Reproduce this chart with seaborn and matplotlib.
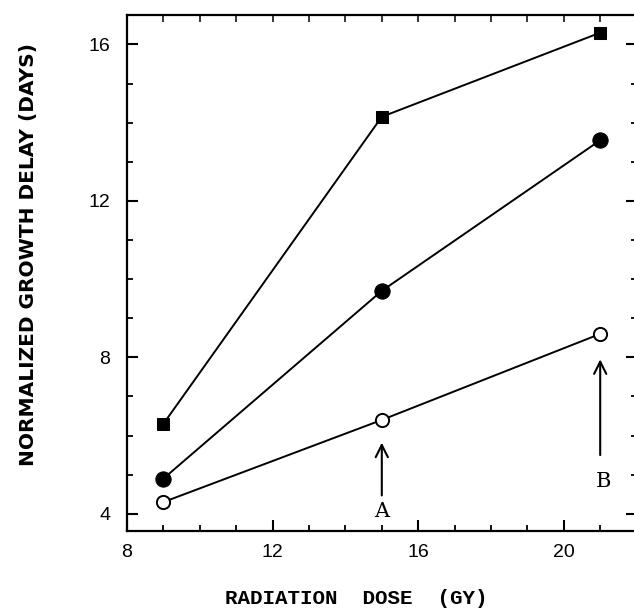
import matplotlib
matplotlib.use("Agg")
import matplotlib.pyplot as plt
from matplotlib.ticker import MultipleLocator
import pandas as pd
import seaborn as sns

# datos
dosis = [9, 15, 21]
retraso_cuadrado = [6.3, 14.15, 16.3]
retraso_lleno = [4.9, 9.7, 13.55]
retraso_abierto = [4.3, 6.4, 8.6]

flechas_x = [15, 21]
flechas_base = [4.4, 5.43]
flechas_punta = [5.89, 8.02]
letras = ["A", "B"]
letras_y = [4.05, 4.82]

sns.set_style("ticks")
plt.rcParams["font.family"] = ["Liberation Sans", "DejaVu Sans"]

fig = plt.figure(figsize=(6.34, 6.08), dpi=100)
ax = fig.add_axes([0.2003, 0.1266, 0.8038, 0.8492])

df = pd.DataFrame({
    "dosis": dosis * 3,
    "retraso": retraso_cuadrado + retraso_lleno + retraso_abierto,
    "serie": ["cuadrado"] * 3 + ["lleno"] * 3 + ["abierto"] * 3,
})

sns.lineplot(data=df[df.serie == "cuadrado"], x="dosis", y="retraso", ax=ax,
             color="black", lw=1.4, marker="s", markersize=8.5,
             markerfacecolor="black", markeredgecolor="black")
sns.lineplot(data=df[df.serie == "lleno"], x="dosis", y="retraso", ax=ax,
             color="black", lw=1.4, marker="o", markersize=11,
             markerfacecolor="black", markeredgecolor="black")
sns.lineplot(data=df[df.serie == "abierto"], x="dosis", y="retraso", ax=ax,
             color="black", lw=1.4, marker="o", markersize=9.5,
             markerfacecolor="white", markeredgecolor="black", markeredgewidth=1.4)

for x, y0, y1, letra, ly in zip(flechas_x, flechas_base, flechas_punta, letras, letras_y):
    ax.annotate("", xy=(x, y1), xytext=(x, y0),
                arrowprops=dict(arrowstyle="->", lw=1.5, color="black", mutation_scale=22))
    ax.text(x + (0.1 if letra == "B" else 0), ly, letra, ha="center", va="center",
            fontsize=15, family="DejaVu Serif", color="black")

ax.set_xlim(8, 22)
ax.set_ylim(3.56, 16.76)
ax.xaxis.set_major_locator(MultipleLocator(4))
ax.xaxis.set_minor_locator(MultipleLocator(1))
ax.yaxis.set_major_locator(MultipleLocator(4))
ax.yaxis.set_minor_locator(MultipleLocator(1))
ax.tick_params(which="both", direction="in", right=True, top=False, color="black",
               labelcolor="black", labelsize=14)
ax.tick_params(which="major", length=8, width=1.5)
ax.tick_params(which="minor", length=4, width=1.3)
ax.tick_params(axis="y", pad=12)
ax.tick_params(axis="x", pad=9)

arriba = ax.secondary_xaxis("top")
arriba.xaxis.set_major_locator(MultipleLocator(1))
arriba.tick_params(direction="in", length=5, width=1.3, labeltop=False)
arriba.spines["top"].set_visible(False)

for lado in ["left", "bottom", "top"]:
    ax.spines[lado].set_linewidth(1.6)
    ax.spines[lado].set_color("black")
ax.spines["right"].set_visible(False)

ax.set_xlabel("RADIATION  DOSE  (GY)", family="Liberation Mono", fontweight="bold",
              fontsize=15, color="black", va="center", ha="center")
ax.set_ylabel("NORMALIZED GROWTH DELAY (DAYS)", family="DejaVu Sans", fontweight="bold",
              fontsize=14.5, color="black", va="center", ha="center")
ax.xaxis.set_label_coords(0.449, -0.13)
ax.yaxis.set_label_coords(-0.194, 0.535)

fig.savefig("out.png", dpi=100)
